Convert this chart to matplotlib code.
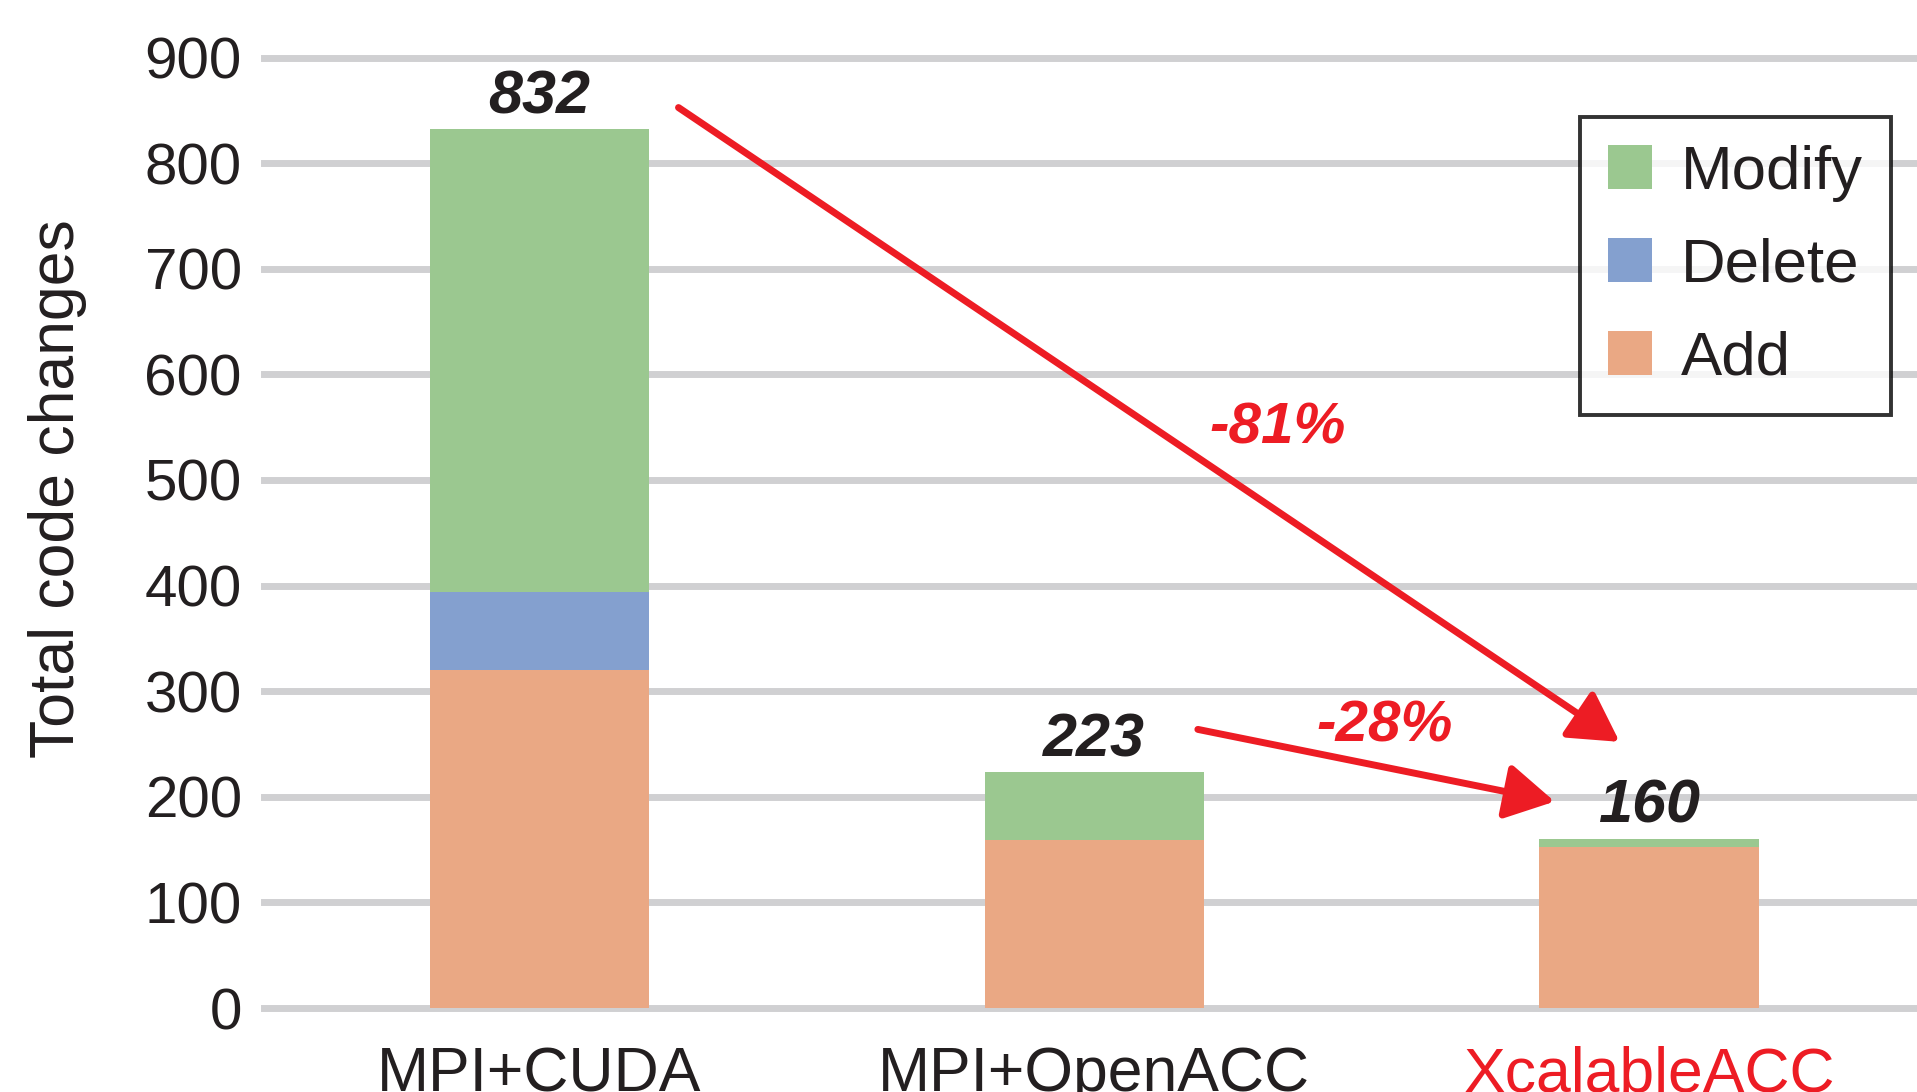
import matplotlib.pyplot as plt

plt.rcParams['font.family'] = ['Liberation Sans', 'DejaVu Sans']

categories = ["MPI+CUDA", "MPI+OpenACC", "XcalableACC"]
add = [320, 159, 152]
delete = [74, 0, 0]
modify = [438, 64, 8]
totals = [832, 223, 160]
yticks = [0, 100, 200, 300, 400, 500, 600, 700, 800, 900]

c_add = "#eaa884"
c_del = "#84a0cf"
c_mod = "#9bc890"
red = "#ed1c24"
dark = "#231f20"

fig = plt.figure(figsize=(19.17, 10.92), dpi=100)
ax = fig.add_axes([264/1917, 1 - 1008/1092, 1 - 264/1917, (1008 - 57.5)/1092])

x = list(range(len(categories)))
w = 0.395
bottom2 = [a + d for a, d in zip(add, delete)]
ax.bar(x, add, w, color=c_add, label="Add", zorder=3)
ax.bar(x, delete, w, bottom=add, color=c_del, label="Delete", zorder=3)
ax.bar(x, modify, w, bottom=bottom2, color=c_mod, label="Modify", zorder=3)

ax.set_xlim(-0.496, 2.483)
ax.set_ylim(0, 900)
ax.set_yticks(yticks)
ax.set_xticks(x)
ax.set_xticklabels(categories)
ax.tick_params(axis='y', length=0, pad=16, labelsize=42, labelcolor=dark)
ax.tick_params(axis='x', length=0, pad=27, labelsize=45, labelcolor=dark)
ax.get_xticklabels()[2].set_color(red)
for s in ax.spines.values():
    s.set_visible(False)
ax.grid(axis='y', color="#d0d0d2", linewidth=5, zorder=0)
for gl in ax.get_ygridlines():
    gl.set_clip_on(False)
ax.set_axisbelow(True)
ax.set_ylabel("Total code changes", fontsize=45, color=dark)
ax.yaxis.set_label_coords(-0.107, 0.546)

# totals on top of bars
for xi, t in zip(x, totals):
    ax.text(xi, t + 30, str(t), ha='center', va='center', fontsize=44,
            fontweight='bold', fontstyle='italic', color=dark, zorder=5)

# reduction arrows
astyle = "-|>,head_length=3.0,head_width=1.7"
ax.annotate("", xy=(1.947, 252), xytext=(0.251, 852.6),
            arrowprops=dict(arrowstyle=astyle, color=red, lw=5,
                            shrinkA=0, shrinkB=0), zorder=6)
ax.annotate("", xy=(1.830, 195.5), xytext=(1.187, 263.8),
            arrowprops=dict(arrowstyle=astyle, color=red, lw=5,
                            shrinkA=0, shrinkB=0), zorder=6)
ax.text(1.330, 549, "-81%", ha='center', va='center', fontsize=42,
        fontweight='bold', fontstyle='italic', color=red)
ax.text(1.524, 267, "-28%", ha='center', va='center', fontsize=42,
        fontweight='bold', fontstyle='italic', color=red)

h, l = ax.get_legend_handles_labels()
leg = ax.legend(h[::-1], l[::-1], loc='upper right',
                bbox_to_anchor=(1891/1917, 1 - 117/1092), bbox_transform=fig.transFigure,
                fontsize=44.5, frameon=True, fancybox=False, edgecolor="black",
                handlelength=0.72, handleheight=0.72, handletextpad=0.47,
                labelspacing=0.58, borderpad=0.45, borderaxespad=0)
leg.get_frame().set_linewidth(2.8)
for t in leg.get_texts():
    t.set_color(dark)

fig.savefig("out.png", dpi=100)
